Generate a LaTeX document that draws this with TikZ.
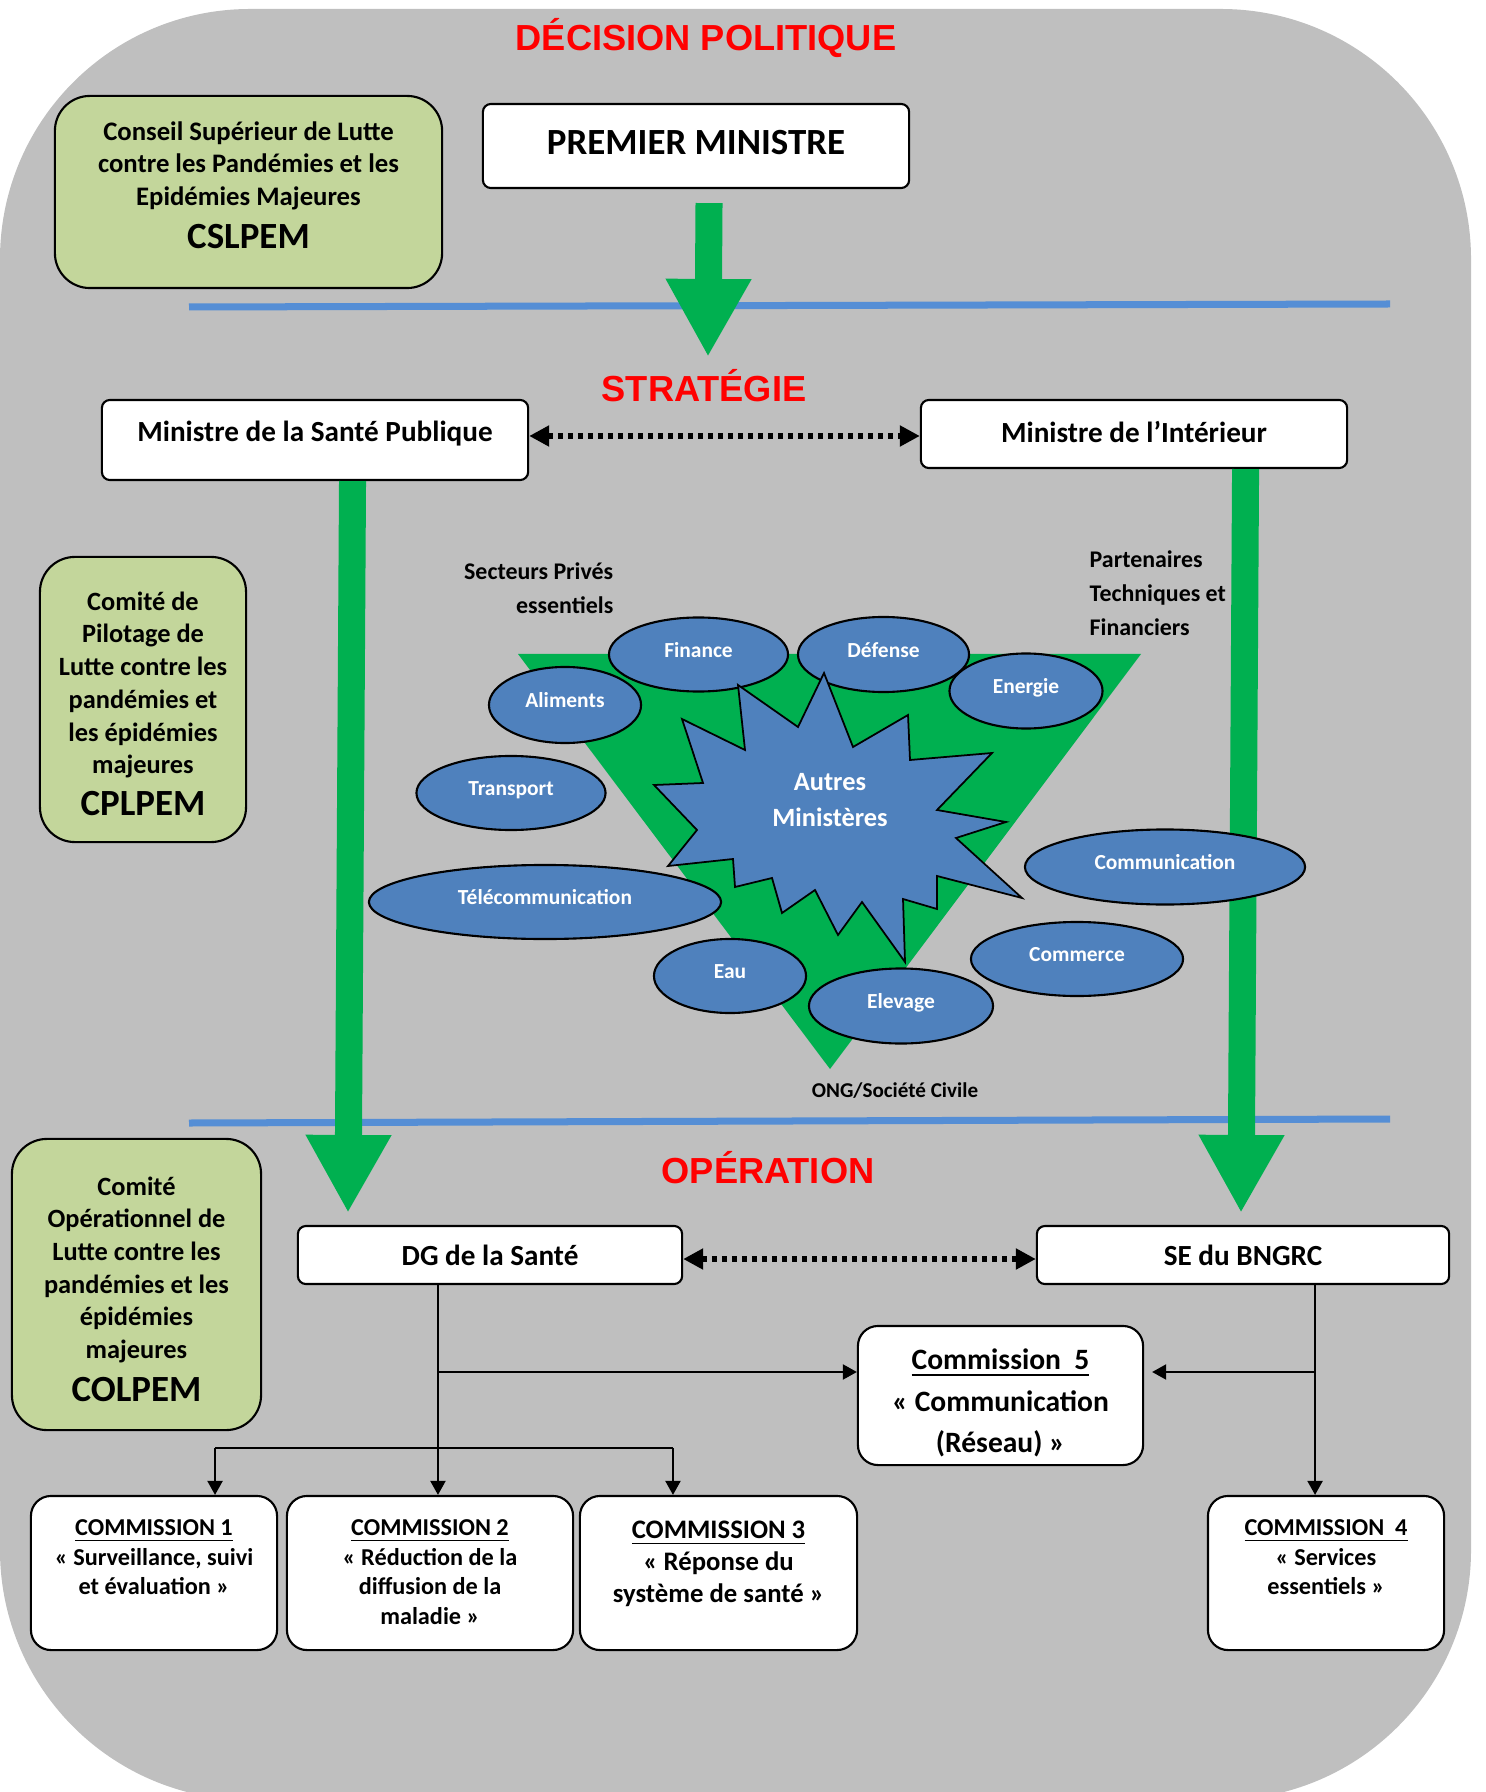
\documentclass[tikz,border=0pt]{standalone}
\usepackage{fontspec}
\setmainfont{Carlito}
\newfontfamily\titlefont{Liberation Sans}
\usetikzlibrary{shapes.geometric,arrows.meta}
\definecolor{bggrey}{RGB}{191,191,191}
\definecolor{boxgreen}{RGB}{195,214,155}
\definecolor{arrowgreen}{RGB}{0,176,80}
\definecolor{ovalblue}{RGB}{79,129,189}
\definecolor{ruleblue}{RGB}{85,142,213}

\begin{document}
\begin{tikzpicture}[x=0.01cm, y=-0.01cm,
  title/.style={font=\titlefont\bfseries\fontsize{10.3}{12}\selectfont, text=red, anchor=base, inner sep=0},
  whitebox/.style={draw=black, line width=0.6pt, fill=white, rounded corners=0.08cm, inner sep=0, font=\bfseries\fontsize{8.3}{10}\selectfont},
  greenbox/.style={draw=black, line width=0.6pt, fill=boxgreen, rounded corners=0.35cm, inner sep=0},
  greentext/.style={align=center, inner sep=0, font=\bfseries\fontsize{7.5}{9.3}\selectfont},
  combox/.style={draw=black, line width=0.6pt, fill=white, rounded corners=0.2cm, minimum height=1.54cm, inner sep=0},
  comtext/.style={anchor=north, align=center, inner sep=0, font=\bfseries\fontsize{6.9}{8.4}\selectfont},
  oval/.style={ellipse, draw=black, line width=0.6pt, fill=ovalblue, text=white, inner sep=0, text height=4pt, text depth=2.3pt, font=\bfseries\fontsize{6.1}{7}\selectfont},
  note/.style={inner sep=0, font=\bfseries\fontsize{6.8}{9.6}\selectfont},
  bluerule/.style={ruleblue, line width=0.07cm},
  bigarrow/.style={arrowgreen, line width=0.27cm, -{Triangle[length=0.78cm, width=0.8cm]}},
  dotarrow/.style={line width=0.06cm, dash pattern=on 0.05cm off 0.05cm, {Triangle[length=0.2cm, width=0.2cm]}-{Triangle[length=0.2cm, width=0.2cm]}},
  link/.style={line width=0.6pt, -{Triangle[length=0.14cm, width=0.15cm]}}
]
\useasboundingbox (0,0) rectangle (1485,1792);
\fill[bggrey, rounded corners=2.5cm] (0,9) rectangle (1471,1800);

\node[title] (decision) at (706,51) {DÉCISION POLITIQUE};
\node[title] (strategie) at (704,402) {STRATÉGIE};
\node[title] (operation) at (768,1183) {OPÉRATION};

\draw[bluerule] (189,307) -- (1390,304);
\draw[bluerule] (189,1123) -- (1390,1119);

\node[whitebox, minimum width=4.26cm, minimum height=0.84cm, text depth=2pt, font=\bfseries\fontsize{10.5}{12}\selectfont] (premier) at (696,146) {PREMIER MINISTRE};
\node[greenbox, minimum width=3.87cm, minimum height=1.92cm] (cslpem) at (248.5,192) {};
\node[greentext, font=\bfseries\fontsize{7.6}{9.25}\selectfont] (cslpemtxt) at (248.5,185) {Conseil Supérieur de Lutte\\contre les Pandémies et les\\Epidémies Majeures\\[3pt]{\fontsize{10.5}{12}\selectfont CSLPEM}};
\node[whitebox, minimum width=4.26cm, minimum height=0.8cm, text depth=4.8pt] (sante) at (315,440) {Ministre de la Santé Publique};
\node[whitebox, minimum width=4.26cm, minimum height=0.68cm, text depth=1.3pt] (interieur) at (1134,434) {Ministre de l’Intérieur};
\node[greenbox, minimum width=2.06cm, minimum height=2.85cm] (cplpem) at (143,699.5) {};
\node[greentext] (cplpemtxt) at (143,704) {Comité de\\Pilotage de\\Lutte contre les\\pandémies et\\les épidémies\\majeures\\[2.7pt]{\fontsize{10.5}{12}\selectfont CPLPEM}};
\node[greenbox, minimum width=2.49cm, minimum height=2.91cm] (colpem) at (136.5,1284.5) {};
\node[greentext] (colpemtxt) at (136.5,1289) {Comité\\Opérationnel de\\Lutte contre les\\pandémies et les\\épidémies\\majeures\\[2.8pt]{\fontsize{10.5}{12}\selectfont COLPEM}};

\coordinate (pmtip) at (708,357);
\coordinate (santetip) at (348,1213);
\coordinate (intertip) at (1241,1213);
\draw[bigarrow] ([xshift=0.13cm, yshift=-0.14cm]premier.south) -- (pmtip);
\draw[bigarrow] ([xshift=0.375cm]sante.south) -- (santetip);
\draw[bigarrow] ([xshift=1.115cm]interieur.south) -- (intertip);
\draw[dotarrow] ([yshift=0.04cm]sante.east) -- ([yshift=0.04cm]sante.east -| interieur.west);

\fill[arrowgreen] (518,654) -- (1141,654) -- (830,1069) -- cycle;

\node[oval, minimum width=1.79cm, minimum height=0.74cm] (finance) at (698.5,654.5) {Finance};
\node[oval, minimum width=1.71cm, minimum height=0.75cm] (defense) at (883.5,654.5) {Défense};
\node[oval, minimum width=1.53cm, minimum height=0.75cm] (energie) at (1026,691) {Energie};
\node[oval, minimum width=1.52cm, minimum height=0.76cm] (aliments) at (565,705) {Aliments};
\node[oval, minimum width=1.89cm, minimum height=0.74cm] (transport) at (511,793) {Transport};
\node[oval, minimum width=3.52cm, minimum height=0.74cm] (telecom) at (545,902) {Télécommunication};
\node[oval, minimum width=2.8cm, minimum height=0.75cm] (communication) at (1165,867) {Communication};
\node[oval, minimum width=2.12cm, minimum height=0.74cm] (commerce) at (1077,959) {Commerce};
\node[oval, minimum width=1.52cm, minimum height=0.74cm] (eau) at (730,976) {Eau};
\node[oval, minimum width=1.84cm, minimum height=0.75cm] (elevage) at (901,1006) {Elevage};

\filldraw[fill=ovalblue, draw=black, line width=0.5pt] (738,685) -- (798,727) -- (824,673) -- (853,747) -- (908,715) -- (910,760) -- (992,753) -- (937,810) -- (1006,822) -- (956,838) -- (1022,898) -- (937,876) -- (937,909) -- (903,899) -- (905,962) -- (862,902) -- (838,935) -- (815,890) -- (782,913) -- (772,878) -- (735,887) -- (733,859) -- (668,866) -- (697,830) -- (654,785) -- (703,783) -- (682,719) -- (745,750) -- cycle;
\node[align=center, text=white, inner sep=0, font=\bfseries\fontsize{7.5}{10.2}\selectfont] (autres) at (830,800) {Autres\\Ministères};

\node[note, align=right, anchor=east] (secteurs) at (614,588) {Secteurs Privés\\essentiels};
\node[note, align=left, anchor=west] (partenaires) at (1089,593) {Partenaires\\Techniques et\\Financiers};
\node[note, font=\bfseries\fontsize{6}{8}\selectfont] (ong) at (895,1091) {ONG/Société Civile};

\node[whitebox, minimum width=3.84cm, minimum height=0.58cm] (dg) at (490,1255) {DG de la Santé};
\node[whitebox, minimum width=4.12cm, minimum height=0.58cm] (se) at (1243,1255) {SE du BNGRC};
\draw[dotarrow] ([yshift=-0.04cm]dg.east) -- ([yshift=-0.04cm]se.west);

\node[combox, minimum width=2.85cm, minimum height=1.39cm] (com5) at (1000.5,1395.5) {};
\node[greentext, font=\bfseries\fontsize{8.4}{11.7}\selectfont] (com5txt) at (1000.5,1403) {\underline{Commission\ \ 5}\\« Communication\\(Réseau) »};
\node[combox, minimum width=2.46cm] (com1) at (154,1573) {};
\node[combox, minimum width=2.86cm] (com2) at (430,1573) {};
\node[combox, minimum width=2.77cm] (com3) at (718.5,1573) {};
\node[combox, minimum width=2.36cm] (com4) at (1326,1573) {};
\node[comtext] (com1txt) at (154,1519) {\underline{COMMISSION 1}\\« Surveillance, suivi\\et évaluation »};
\node[comtext] (com2txt) at (430,1519) {\underline{COMMISSION 2}\\« Réduction de la\\diffusion de la\\maladie »};
\node[comtext, font=\bfseries\fontsize{7.6}{9.2}\selectfont] (com3txt) at (718.5,1520) {\underline{COMMISSION 3}\\« Réponse du\\système de santé »};
\node[comtext] (com4txt) at (1326,1519) {\underline{COMMISSION\ \ 4}\\« Services\\essentiels »};

\coordinate (dgfoot) at ([xshift=-0.52cm]dg.south);
\coordinate (sefoot) at ([xshift=0.72cm]se.south);
\coordinate (c5in) at ([yshift=0.235cm]com5.west);
\coordinate (c5out) at ([xshift=0.08cm, yshift=0.235cm]com5.east);
\coordinate (fork) at ([yshift=0.47cm]com2.north);
\coordinate (c1top) at ([xshift=0.61cm]com1.north);
\coordinate (c3top) at ([xshift=-0.455cm]com3.north);
\draw[link] (dgfoot) -- (dgfoot |- com2.north);
\draw[link] (dgfoot |- c5in) -- (c5in);
\draw[line width=0.6pt] (c1top |- fork) -- (c3top |- fork);
\draw[link] (c1top |- fork) -- (c1top);
\draw[link] (c3top |- fork) -- (c3top);
\draw[link] (sefoot) -- (sefoot |- com4.north);
\draw[link] (sefoot |- c5out) -- (c5out);
\end{tikzpicture}
\end{document}
